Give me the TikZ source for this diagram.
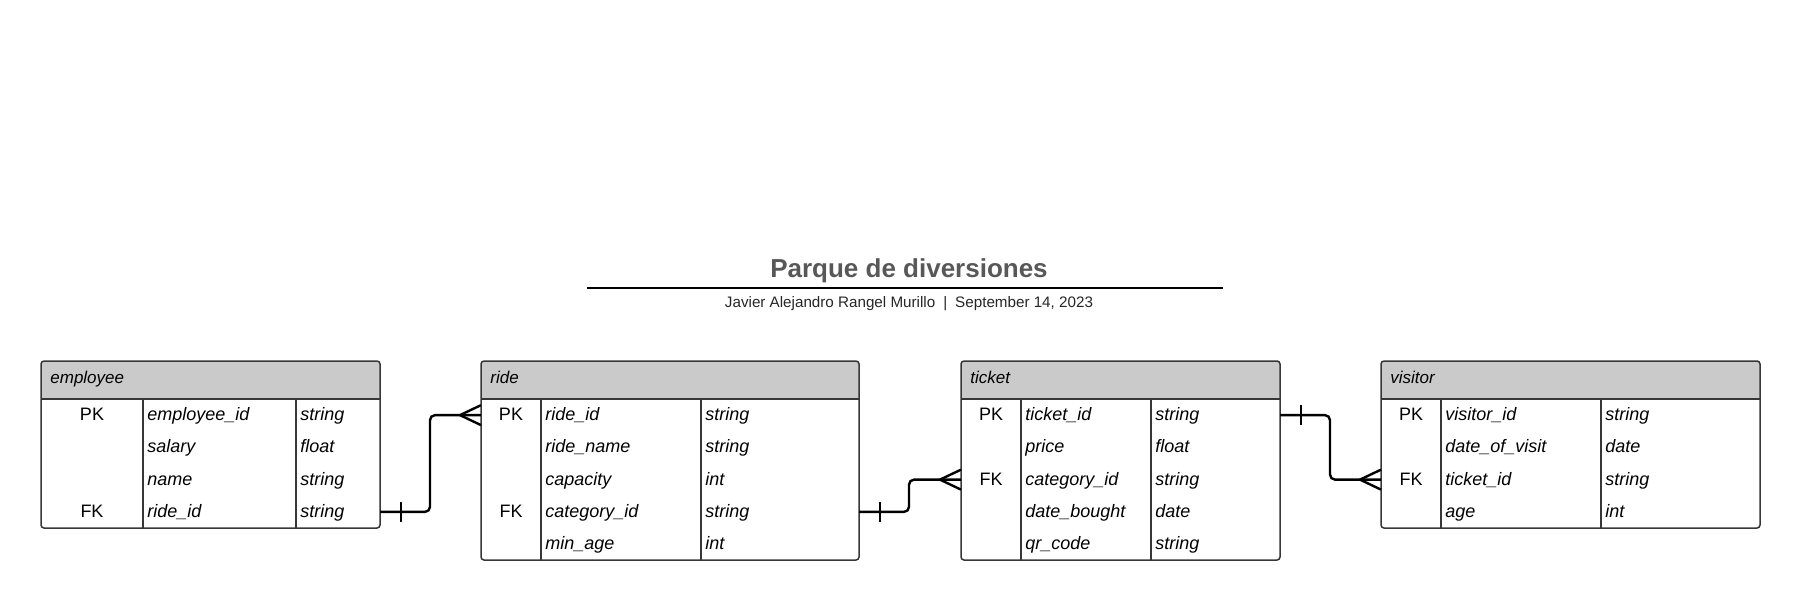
\documentclass[tikz,border=0pt]{standalone}
\usepackage{fontspec}
\setsansfont{Liberation Sans}
\usetikzlibrary{calc}

\definecolor{hdrgray}{RGB}{202,202,202}
\definecolor{titlegray}{RGB}{88,88,88}
\definecolor{framegray}{RGB}{55,55,55}

\begin{document}
\begin{tikzpicture}[
    x=0.5pt,y=0.5pt,
    yscale=-1,xscale=1,
    font = \sffamily,
    tblframe/.style = {draw=framegray, line width=0.75pt, rounded corners=1.5pt, inner sep=0pt, outer sep=0pt},
    hdr/.style = {fill=hdrgray, rounded corners=1.5pt},
    colline/.style = {draw=framegray, line width=0.6pt},
    rowbox/.style = {inner sep=0pt, outer sep=0pt, minimum height=16.1pt},
    keytext/.style = {inner sep=0pt, anchor=base, font=\sffamily\fontsize{9}{9}\selectfont},
    fieldtext/.style = {inner sep=0pt, anchor=base west, font=\sffamily\itshape\fontsize{9}{9}\selectfont},
    tname/.style = {inner sep=0pt, anchor=base west, font=\sffamily\itshape\fontsize{8.5}{8.5}\selectfont},
    rel/.style = {line width=1.2pt, rounded corners=2.5pt},
    foot/.style = {line width=1.2pt},
]
    \useasboundingbox (0,0) rectangle (1800,600);

    % titulo
    \node [inner sep=0pt, anchor=base, text=titlegray,
        font=\sffamily\bfseries\fontsize{13}{13}\selectfont] (title) at (909,277) {Parque de diversiones};
    \draw [line width=1.4pt] (587,288) -- (1223,288);
    \node [inner sep=0pt, anchor=base, text=black!85,
        font=\sffamily\fontsize{7.6}{7.6}\selectfont] (author) at (909,307)
        {Javier Alejandro Rangel Murillo\hspace{4pt}|\hspace{4pt}September 14, 2023};

    % employee
    \fill [hdr] (41,361) rectangle (380,399);
    \node [tblframe, minimum width=169.5pt, minimum height=83.5pt] (employee) at (210.5,444.5) {};
    \node [tname] (employee-name) at (50,383) {employee};
    \draw [colline] (41,399) -- (380,399);
    \draw [colline] (143,399) -- (143,528);
    \draw [colline] (296,399) -- (296,528);
    \foreach \i/\k/\f/\t in {1/PK/employee\_id/string, 2//salary/float, 3//name/string, 4/FK/ride\_id/string}{
        \node [rowbox, minimum width=169.5pt] (employee-\i) at (210.5,{399+32.25*(\i-0.5)}) {};
        \node [keytext] (employee-\i-k) at (92,{399+32.25*(\i-0.5)+5.5}) {\k};
        \node [fieldtext] (employee-\i-f) at (147,{399+32.25*(\i-0.5)+5.5}) {\f};
        \node [fieldtext] (employee-\i-t) at (300,{399+32.25*(\i-0.5)+5.5}) {\t};
    }

    % ride
    \fill [hdr] (481,361) rectangle (859,399);
    \node [tblframe, minimum width=189pt, minimum height=99.5pt] (ride) at (670,460.5) {};
    \node [tname] (ride-name) at (490,383) {ride};
    \draw [colline] (481,399) -- (859,399);
    \draw [colline] (541,399) -- (541,560);
    \draw [colline] (701,399) -- (701,560);
    \foreach \i/\k/\f/\t in {1/PK/ride\_id/string, 2//ride\_name/string, 3//capacity/int, 4/FK/category\_id/string, 5//min\_age/int}{
        \node [rowbox, minimum width=189pt] (ride-\i) at (670,{399+32.25*(\i-0.5)}) {};
        \node [keytext] (ride-\i-k) at (511,{399+32.25*(\i-0.5)+5.5}) {\k};
        \node [fieldtext] (ride-\i-f) at (545,{399+32.25*(\i-0.5)+5.5}) {\f};
        \node [fieldtext] (ride-\i-t) at (705,{399+32.25*(\i-0.5)+5.5}) {\t};
    }

    % ticket
    \fill [hdr] (961,361) rectangle (1280,399);
    \node [tblframe, minimum width=159.5pt, minimum height=99.5pt] (ticket) at (1120.5,460.5) {};
    \node [tname] (ticket-name) at (970,383) {ticket};
    \draw [colline] (961,399) -- (1280,399);
    \draw [colline] (1021,399) -- (1021,560);
    \draw [colline] (1151,399) -- (1151,560);
    \foreach \i/\k/\f/\t in {1/PK/ticket\_id/string, 2//price/float, 3/FK/category\_id/string, 4//date\_bought/date, 5//qr\_code/string}{
        \node [rowbox, minimum width=159.5pt] (ticket-\i) at (1120.5,{399+32.25*(\i-0.5)}) {};
        \node [keytext] (ticket-\i-k) at (991,{399+32.25*(\i-0.5)+5.5}) {\k};
        \node [fieldtext] (ticket-\i-f) at (1025,{399+32.25*(\i-0.5)+5.5}) {\f};
        \node [fieldtext] (ticket-\i-t) at (1155,{399+32.25*(\i-0.5)+5.5}) {\t};
    }

    % visitor
    \fill [hdr] (1381,361) rectangle (1760,399);
    \node [tblframe, minimum width=189.5pt, minimum height=83.5pt] (visitor) at (1570.5,444.5) {};
    \node [tname] (visitor-name) at (1390,383) {visitor};
    \draw [colline] (1381,399) -- (1760,399);
    \draw [colline] (1441,399) -- (1441,528);
    \draw [colline] (1601,399) -- (1601,528);
    \foreach \i/\k/\f/\t in {1/PK/visitor\_id/string, 2//date\_of\_visit/date, 3/FK/ticket\_id/string, 4//age/int}{
        \node [rowbox, minimum width=189.5pt] (visitor-\i) at (1570.5,{399+32.25*(\i-0.5)}) {};
        \node [keytext] (visitor-\i-k) at (1411,{399+32.25*(\i-0.5)+5.5}) {\k};
        \node [fieldtext] (visitor-\i-f) at (1445,{399+32.25*(\i-0.5)+5.5}) {\f};
        \node [fieldtext] (visitor-\i-t) at (1605,{399+32.25*(\i-0.5)+5.5}) {\t};
    }

    % relaciones
    \draw [rel] (employee-4.east) -- ++(50,0) |- (ride-1.west);
    \draw [foot] ($(employee-4.east)+(21,-10)$) -- ($(employee-4.east)+(21,10)$);
    \draw [foot] ($(ride-1.west)+(0,-10)$) -- ($(ride-1.west)+(-21,0)$) -- ($(ride-1.west)+(0,10)$);

    \draw [rel] (ride-4.east) -- ++(50,0) |- (ticket-3.west);
    \draw [foot] ($(ride-4.east)+(21,-10)$) -- ($(ride-4.east)+(21,10)$);
    \draw [foot] ($(ticket-3.west)+(0,-10)$) -- ($(ticket-3.west)+(-21,0)$) -- ($(ticket-3.west)+(0,10)$);

    \draw [rel] (ticket-1.east) -- ++(50,0) |- (visitor-3.west);
    \draw [foot] ($(ticket-1.east)+(21,-10)$) -- ($(ticket-1.east)+(21,10)$);
    \draw [foot] ($(visitor-3.west)+(0,-10)$) -- ($(visitor-3.west)+(-21,0)$) -- ($(visitor-3.west)+(0,10)$);
\end{tikzpicture}
\end{document}
